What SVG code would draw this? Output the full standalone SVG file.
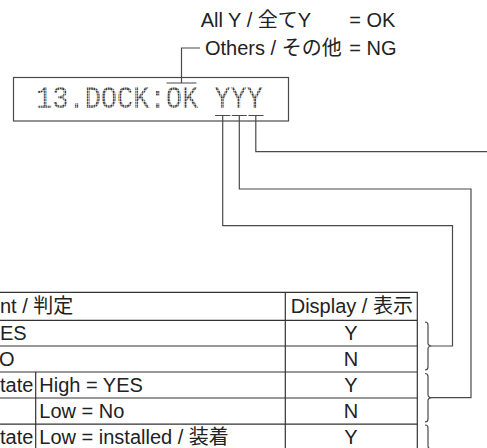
<svg xmlns="http://www.w3.org/2000/svg" width="487" height="448" viewBox="0 0 487 448">
<defs>
<style>
.t{font-family:"Liberation Sans","Noto Sans CJK JP",sans-serif;font-size:20px;fill:#222}
.tb{font-family:"Liberation Sans","Noto Sans CJK JP",sans-serif;font-size:20px;fill:#222}
.c{text-anchor:middle}
.lcd{font-family:"Liberation Mono","DejaVu Sans Mono",monospace;font-size:27px;fill:url(#dots)}
.ln{fill:none;stroke:#4a4a4a;stroke-width:1.2}
.tl{fill:none;stroke:#333;stroke-width:1.2}
</style>
<pattern id="dots" patternUnits="userSpaceOnUse" width="2.4" height="2.4">
<rect width="1.9" height="1.9" fill="#3a3a3a"/>
</pattern>
</defs>
<rect width="487" height="448" fill="#fff"/>
<g id="legend">
<text class="t" x="200.7" y="27">All Y / 全てY</text>
<text class="t" x="349.3" y="27">= OK</text>
<text class="t" x="205" y="54.5">Others / その他</text>
<text class="t" x="349.3" y="54.5">= NG</text>
</g>
<g id="lcd">
<rect x="13.5" y="77.5" width="275" height="43.5" fill="none" stroke="#4a4a4a" stroke-width="1.2"/>
<g transform="translate(36 107.5) scale(1 1.15)">
<text class="lcd" x="0" y="0" textLength="227" lengthAdjust="spacing">13.DOCK:OK YYY</text>
</g>
</g>
<g id="table">
<path class="tl" d="M-2 292.3H417.3V460M-2 320.3H417.3M-2 346H417.3M-2 372H417.3M-2 398H417.3M-2 424.2H417.3M285.3 292.3V460M35.7 372V460"/>
<text class="tb" x="0" y="313.3">nt / 判定</text>
<text class="tb" x="290.7" y="313.3">Display / 表示</text>
<text class="tb" x="0" y="340">ES</text>
<text class="tb c" x="351" y="340">Y</text>
<text class="tb" x="-1" y="366">O</text>
<text class="tb c" x="351" y="366">N</text>
<text class="tb" x="0" y="392.3">tate</text>
<text class="tb" x="39.3" y="392.3">High = YES</text>
<text class="tb c" x="351" y="392.3">Y</text>
<text class="tb" x="39.3" y="418.3">Low = No</text>
<text class="tb c" x="351" y="418.3">N</text>
<text class="tb" x="0" y="444.3">tate</text>
<text class="tb" x="39.3" y="444.3">Low = installed / 装着</text>
<text class="tb c" x="351" y="444.3">Y</text>
</g>
<g id="braces">
<path class="ln" d="M425 322Q428 322 428 325V343Q428 346 432 346Q428 346 428 349V367Q428 370 425 370"/>
<path class="ln" d="M425 373.5Q428 373.5 428 376.5V394.5Q428 397.7 432 397.7Q428 397.7 428 401V419Q428 422 425 422"/>
<path class="ln" d="M425 425Q428 425 428 428V446Q428 449 432 449Q428 449 428 452V470Q428 473 425 473"/>
</g>
<g id="connectors">
<path class="ln" d="M166.5 83H196.5M181.5 83V48H200"/>
<path class="ln" d="M215 115.5H230.3M231.8 115.5H246.8M248.5 115.5H263.5"/>
<path class="ln" d="M255.8 115.5V151.7H490"/>
<path class="ln" d="M239.3 115.5V189H471V397.7H432"/>
<path class="ln" d="M222.7 115.5V225.7H452.5V346H432"/>
</g>
</svg>
